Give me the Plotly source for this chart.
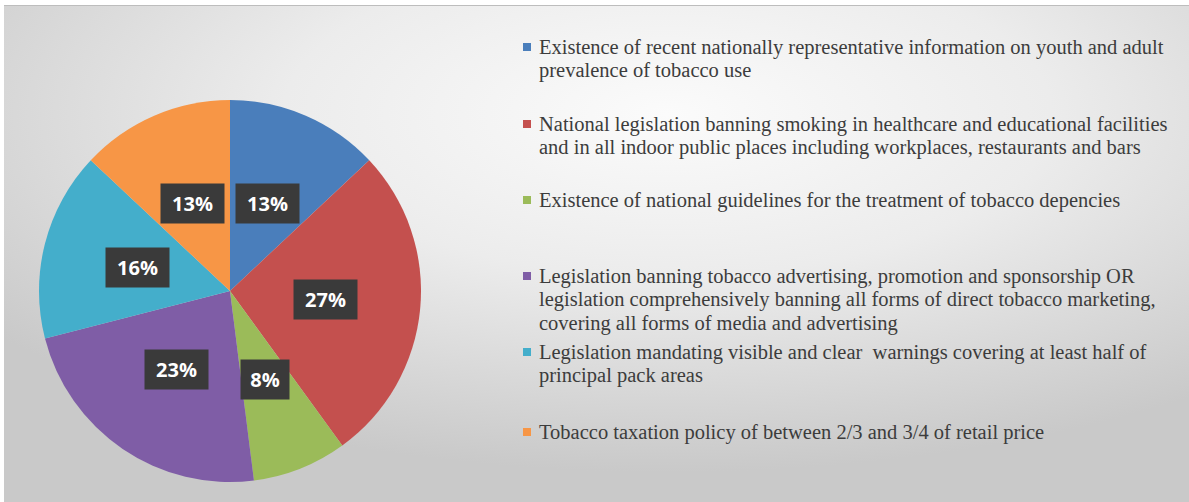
import base64
import math
import plotly.graph_objects as go

# Share of countries meeting each tobacco-control policy indicator
categories = [
    "Existence of recent nationally representative information on youth and adult<br>prevalence of tobacco use",
    "National legislation banning smoking in healthcare and educational facilities<br>and in all indoor public places including workplaces, restaurants and bars",
    "Existence of national guidelines for the treatment of tobacco depencies",
    "Legislation banning tobacco advertising, promotion and sponsorship OR<br>legislation comprehensively banning all forms of direct tobacco marketing,<br>covering all forms of media and advertising",
    "Legislation mandating visible and clear  warnings covering at least half of<br>principal pack areas",
    "Tobacco taxation policy of between 2/3 and 3/4 of retail price",
]
shares = [13, 27, 8, 23, 16, 13]
colors = ["#4A7EBB", "#C4504E", "#9BBB59", "#7F5DA6", "#44AECB", "#F79646"]

W, H = 1189, 502

# Pie geometry (pixels)
CX, CY, R = 230, 291, 191

# Soft radial backdrop for the panel
svg = f"""<svg xmlns='http://www.w3.org/2000/svg' width='{W}' height='{H}'>
<defs><radialGradient id='g' cx='0.56' cy='0.22' r='0.72' fx='0.56' fy='0.22'>
<stop offset='0' stop-color='#fbfbfb'/>
<stop offset='0.45' stop-color='#ececec'/>
<stop offset='1' stop-color='#c9c9c9'/>
</radialGradient></defs>
<rect width='{W}' height='{H}' fill='#ffffff'/>
<rect x='4' y='5' width='{W-4}' height='{H-5}' fill='url(#g)'/>
<line x1='4' y1='5.5' x2='{W}' y2='5.5' stroke='#bdbdbd' stroke-width='1'/>
</svg>"""
bg_uri = "data:image/svg+xml;base64," + base64.b64encode(svg.encode()).decode()

fig = go.Figure()
fig.add_trace(go.Pie(
    labels=[c.replace("<br>", " ") for c in categories],
    values=shares,
    sort=False,
    direction="clockwise",
    rotation=0,
    marker=dict(colors=colors, line=dict(width=0)),
    textinfo="none",
    hoverinfo="label+percent",
    showlegend=False,
    domain=dict(x=[(CX - R) / W, (CX + R) / W],
                y=[1 - (CY + R) / H, 1 - (CY - R) / H]),
))

annotations = []

# Percentage tags placed half-way out along each slice's middle angle
total = sum(shares)
cum = 0
for v in shares:
    mid = (cum + v / 2) / total * 2 * math.pi
    cum += v
    px = CX + 0.5 * R * math.sin(mid)
    py = CY - 0.5 * R * math.cos(mid)
    txt = f"{v}%"
    annotations.append(dict(
        x=px / W, y=1 - py / H, xref="paper", yref="paper",
        text=f"<b>{txt}</b>", showarrow=False,
        font=dict(family="Open Sans", size=20, color="#ffffff"),
        bgcolor="#3a3a3a", width=16 + 15 * len(txt), height=37,
        xanchor="center", yanchor="middle",
    ))

# Legend entries on the right, one text line at a time
legend_rows = [47, 124, 200, 276, 352, 432]
LINE = 23.8
shapes = []
for cat, col, yc in zip(categories, colors, legend_rows):
    for i, line in enumerate(cat.split("<br>")):
        annotations.append(dict(
            x=538 / W, y=1 - (yc + i * LINE) / H, xref="paper", yref="paper",
            text=line, showarrow=False, align="left",
            xanchor="left", yanchor="middle", borderpad=0,
            font=dict(family="Liberation Serif", size=20.5, color="#3c3c3c"),
        ))
    shapes.append(dict(
        type="rect", xref="paper", yref="paper",
        x0=523 / W, x1=531 / W, y0=1 - (yc + 4) / H, y1=1 - (yc - 4) / H,
        fillcolor=col, line=dict(width=0),
    ))

fig.update_layout(
    width=W, height=H,
    margin=dict(l=0, r=0, t=0, b=0),
    paper_bgcolor="#ffffff",
    plot_bgcolor="rgba(0,0,0,0)",
    images=[dict(source=bg_uri, xref="paper", yref="paper", x=0, y=1,
                 sizex=1, sizey=1, sizing="stretch", layer="below",
                 xanchor="left", yanchor="top")],
    annotations=annotations,
    shapes=shapes,
)

fig.write_html("out.html")
